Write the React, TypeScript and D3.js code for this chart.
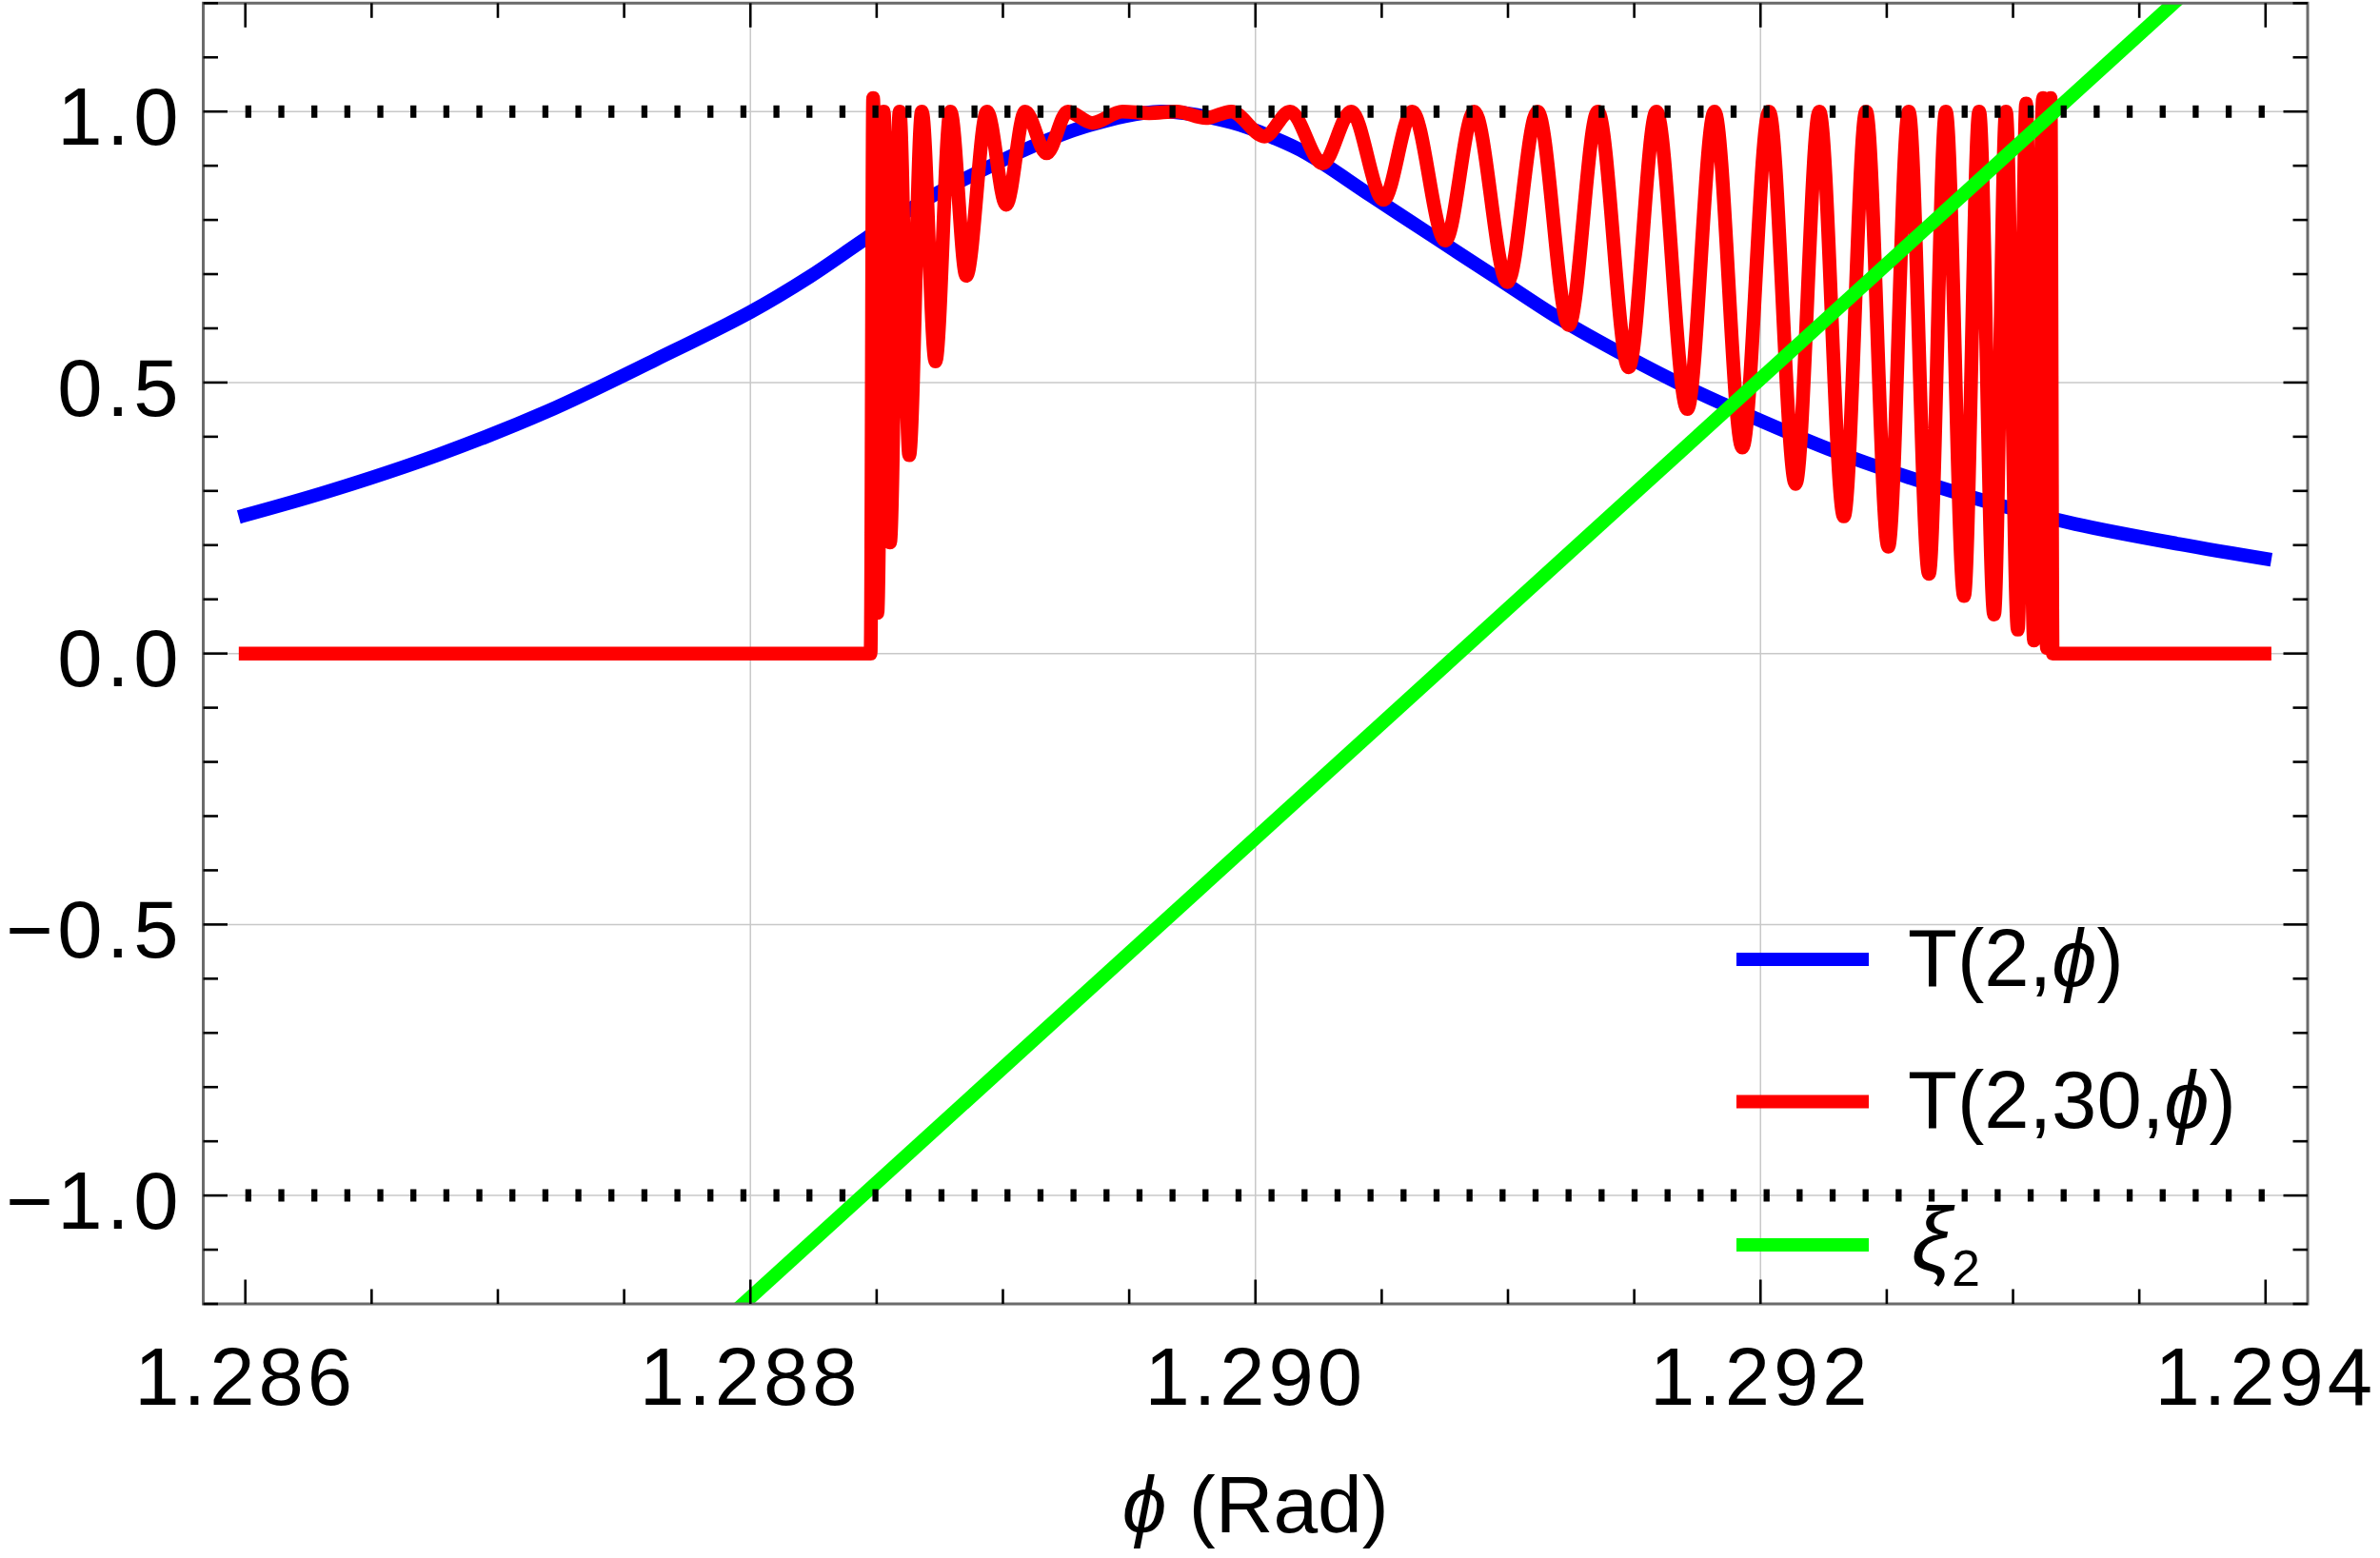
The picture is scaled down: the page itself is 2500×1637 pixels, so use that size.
import React from 'react';
import * as d3 from 'd3';

const W = 2500;
const H = 1637;

// ---------- data ----------
const xMajorTicks = [1.286, 1.288, 1.29, 1.292, 1.294];
const xTickLabels = ['1.286', '1.288', '1.290', '1.292', '1.294'];
const xGridValues = [1.288, 1.29, 1.292];
const yMajorTicks = [-1, -0.5, 0, 0.5, 1];
const yTickLabels = ['\u22121.0', '\u22120.5', '0.0', '0.5', '1.0'];
const dottedLevels = [1, -1];

// T(2, phi)
const bluePhi = [1.285974, 1.286327, 1.28676, 1.287192, 1.287626, 1.288, 1.288234, 1.288455, 1.288685, 1.28891,
  1.289138, 1.289343, 1.289628, 1.289904, 1.29008, 1.290206, 1.290457, 1.290709, 1.29096, 1.291211,
  1.291463, 1.291714, 1.291965, 1.292267, 1.292568, 1.292945, 1.293247, 1.293658, 1.294023];
const blueT = [0.252, 0.299, 0.366, 0.446, 0.5425, 0.63, 0.695, 0.765, 0.835, 0.89,
  0.94, 0.975, 1.0, 0.98, 0.95, 0.922, 0.845, 0.768, 0.692, 0.616,
  0.55, 0.49, 0.437, 0.378, 0.328, 0.274, 0.239, 0.202, 0.173];

// T(2, 30, phi)
const redPhi = [1.285974, 1.288476, 1.288486, 1.288503, 1.288528, 1.288553, 1.288591, 1.288629, 1.288679, 1.288733,
  1.288792, 1.288855, 1.288937, 1.289013, 1.289088, 1.289173, 1.289257, 1.289354, 1.289473, 1.289579,
  1.289688, 1.289804, 1.289904, 1.290036, 1.290137, 1.290266, 1.290379, 1.290507, 1.290621, 1.290752,
  1.290866, 1.290998, 1.291117, 1.291241, 1.291356, 1.291478, 1.291588, 1.29171, 1.291818, 1.291928,
  1.292034, 1.292139, 1.292233, 1.29233, 1.292418, 1.292506, 1.292587, 1.292667, 1.292734, 1.292806,
  1.292866, 1.292925, 1.292972, 1.293019, 1.293052, 1.293083, 1.293119, 1.293134, 1.293149, 1.293157,
  1.294023];
const redT = [0, 0, 1.025, 0.075, 1.0, 0.205, 1.0, 0.366, 1.0, 0.539,
  1.0, 0.697, 1.0, 0.828, 1.0, 0.923, 1.0, 0.979, 1.0, 0.997,
  1.0, 0.988, 1.0, 0.954, 1.0, 0.904, 1.0, 0.837, 1.0, 0.762,
  1.0, 0.685, 1.0, 0.606, 1.0, 0.528, 1.0, 0.451, 1.0, 0.38,
  1.0, 0.313, 1.0, 0.253, 1.0, 0.197, 1.0, 0.147, 1.0, 0.106,
  1.0, 0.072, 1.0, 0.044, 1.015, 0.024, 1.025, 0.01, 1.025, 0,
  0];

// xi_2
const greenPhi = [1.2878, 1.2938];
const greenXi = [-1.273, 1.2695];

const legendLabels = ['T(2,', 'T(2,30,', ''];
const legendColors = ['#0000ff', '#ff0000', '#00ff00'];

// ---------- layout ----------
const plotLeft = 213.5;
const plotRight = 2424;
const plotTop = 3.3;
const plotBottom = 1370;

const x = d3.scaleLinear().domain([1.2858333, 1.2941667]).range([plotLeft, plotRight]);
const y = d3.scaleLinear().domain([-1.2, 1.2]).range([plotBottom, plotTop]);

const xMinorTicks = d3.range(0, 17).map((i) => 1.286 + i * 0.0005).filter((v) => !xMajorTicks.some((m) => Math.abs(m - v) < 1e-9));
const yMinorTicks = d3.range(-12, 13).map((i) => i / 10).filter((v) => !yMajorTicks.some((m) => Math.abs(m - v) < 1e-9));

const smoothGen = d3
  .line<[number, number]>()
  .x((d) => x(d[0]))
  .y((d) => y(d[1]))
  .curve(d3.curveCatmullRom.alpha(0.5));
const lineGen = d3
  .line<[number, number]>()
  .x((d) => x(d[0]))
  .y((d) => y(d[1]))
  .curve(d3.curveMonotoneX);
const straight = d3
  .line<[number, number]>()
  .x((d) => x(d[0]))
  .y((d) => y(d[1]));

const bluePts = bluePhi.map((p, i) => [p, blueT[i]] as [number, number]);
const redPts = redPhi.map((p, i) => [p, redT[i]] as [number, number]);
const greenPts = greenPhi.map((p, i) => [p, greenXi[i]] as [number, number]);

const FONT = "'Liberation Sans', Arial, sans-serif";

export default function App() {
  const majorLen = 25.5;
  const minorLen = 15.5;
  const tickColor = '#000';
  const tickW = 2.6;
  const legendY = [1008, 1157.5, 1307.9];
  const legendBase = [1036.3, 1185.2, 1335];
  const lw = 14.5;
  return (
    <svg
      width={W}
      height={H}
      viewBox={`0 0 ${W} ${H}`}
      style={{ position: 'absolute', left: 0, top: 0, background: '#fff' }}
    >
      <defs>
        <clipPath id="plotclip">
          <rect x={plotLeft} y={plotTop} width={plotRight - plotLeft} height={plotBottom - plotTop} />
        </clipPath>
      </defs>
      <rect x={0} y={0} width={W} height={H} fill="#fff" />

      {/* grid */}
      {xGridValues.map((v) => (
        <line key={'gx' + v} x1={x(v)} x2={x(v)} y1={plotTop} y2={plotBottom} stroke="#c8c8c8" strokeWidth={1.5} />
      ))}
      {yMajorTicks.map((v) => (
        <line key={'gy' + v} x1={plotLeft} x2={plotRight} y1={y(v)} y2={y(v)} stroke="#c8c8c8" strokeWidth={1.5} />
      ))}

      {/* curves */}
      <g clipPath="url(#plotclip)" fill="none" strokeLinejoin="round">
        <path d={smoothGen(bluePts) || ''} stroke="#0000ff" strokeWidth={lw} />
        <path d={lineGen(redPts) || ''} stroke="#ff0000" strokeWidth={lw} />
        <path d={straight(greenPts) || ''} stroke="#00ff00" strokeWidth={lw} />
      </g>

      {/* dotted reference lines */}
      {dottedLevels.map((v) => (
        <line
          key={'dl' + v}
          x1={x(1.286)}
          x2={x(1.294)}
          y1={y(v)}
          y2={y(v)}
          stroke="#000"
          strokeWidth={13}
          strokeDasharray="6.3,28.37"
        />
      ))}

      {/* frame */}
      <rect
        x={plotLeft}
        y={plotTop}
        width={plotRight - plotLeft}
        height={plotBottom - plotTop}
        fill="none"
        stroke="#6b6b6b"
        strokeWidth={3}
      />

      {/* ticks */}
      <g stroke={tickColor} strokeWidth={tickW}>
        {xMajorTicks.map((v) => (
          <g key={'xm' + v}>
            <line x1={x(v)} x2={x(v)} y1={plotBottom} y2={plotBottom - majorLen} />
            <line x1={x(v)} x2={x(v)} y1={plotTop} y2={plotTop + majorLen} />
          </g>
        ))}
        {xMinorTicks.map((v) => (
          <g key={'xn' + v}>
            <line x1={x(v)} x2={x(v)} y1={plotBottom} y2={plotBottom - minorLen} />
            <line x1={x(v)} x2={x(v)} y1={plotTop} y2={plotTop + minorLen} />
          </g>
        ))}
        {yMajorTicks.map((v) => (
          <g key={'ym' + v}>
            <line x1={plotLeft} x2={plotLeft + majorLen} y1={y(v)} y2={y(v)} />
            <line x1={plotRight} x2={plotRight - majorLen} y1={y(v)} y2={y(v)} />
          </g>
        ))}
        {yMinorTicks.map((v) => (
          <g key={'yn' + v}>
            <line x1={plotLeft} x2={plotLeft + minorLen} y1={y(v)} y2={y(v)} />
            <line x1={plotRight} x2={plotRight - minorLen} y1={y(v)} y2={y(v)} />
          </g>
        ))}
      </g>

      {/* tick labels */}
      <g fontFamily={FONT} fontSize={85} fill="#000">
        {xMajorTicks.map((v, i) => (
          <text key={'xl' + v} x={x(v)} y={1476} textAnchor="middle" letterSpacing={4}>
            {xTickLabels[i]}
          </text>
        ))}
        {yMajorTicks.map((v, i) => (
          <text key={'yl' + v} x={192} y={y(v) + 34.7} textAnchor="end" letterSpacing={4.5}>
            {yTickLabels[i]}
          </text>
        ))}
      </g>

      {/* axis title */}
      <text x={(plotLeft + plotRight) / 2} y={1610} textAnchor="middle" fontFamily={FONT} fontSize={84} fill="#000">
        <tspan fontStyle="italic">{'\u03D5'}</tspan>
        <tspan> (Rad)</tspan>
      </text>

      {/* legend */}
      <g fontFamily={FONT} fontSize={85} fill="#000">
        {legendColors.map((c, i) => (
          <line key={'lg' + i} x1={1824} x2={1963} y1={legendY[i]} y2={legendY[i]} stroke={c} strokeWidth={14} />
        ))}
        <text x={2004} y={legendBase[0]}>
          {legendLabels[0]}
          <tspan fontStyle="italic">{'\u03D5'}</tspan>)
        </text>
        <text x={2004} y={legendBase[1]}>
          {legendLabels[1]}
          <tspan fontStyle="italic">{'\u03D5'}</tspan>)
        </text>
        <text x={2008} y={legendBase[2]}>
          <tspan fontStyle="italic" fontSize={94}>{'\u03BE'}</tspan>
          <tspan fontSize={54} dy={16}>2</tspan>
        </text>
      </g>
    </svg>
  );
}
